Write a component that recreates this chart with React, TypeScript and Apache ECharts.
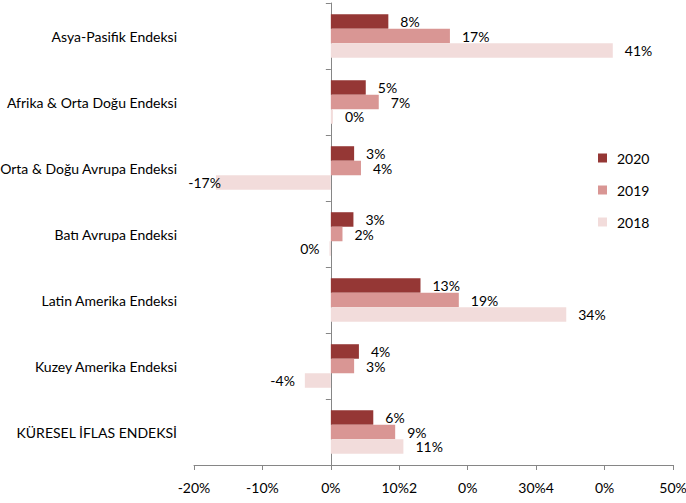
import React, { useEffect, useRef } from "react";
import * as echarts from "echarts";

const categories = [
  "Asya-Pasifik Endeksi",
  "Afrika & Orta Doğu Endeksi",
  "Orta & Doğu Avrupa Endeksi",
  "Batı Avrupa Endeksi",
  "Latin Amerika Endeksi",
  "Kuzey Amerika Endeksi",
  "KÜRESEL İFLAS ENDEKSİ",
];
const seriesNames = ["2020", "2019", "2018"];
const values2020 = [8.4, 5.1, 3.4, 3.3, 13.1, 4.1, 6.2];
const values2019 = [17.4, 7.0, 4.4, 1.7, 18.7, 3.4, 9.4];
const values2018 = [41.2, 0.3, -16.8, -0.2, 34.4, -3.8, 10.6];
const xTickLabels = ["-20%", "-10%", "0%", "10%2", "0%", "30%4", "0%", "50%"];
const xMin = -20;
const xMax = 50;
const xInterval = 10;

const colors = ["#953735", "#D99694", "#F2DCDB"];
const FONT = "Lato, 'Liberation Sans Narrow', sans-serif";

export default function App() {
  const ref = useRef<HTMLDivElement>(null);
  useEffect(() => {
    if (!ref.current) return;
    const chart = echarts.init(ref.current, undefined, { renderer: "svg" });
    const allValues = [values2020, values2019, values2018];
    const series = allValues.map((vals, si) => ({
      name: seriesNames[si],
      type: "bar",
      barGap: "0%",
      barCategoryGap: "34%",
      itemStyle: { color: colors[si] },
      label: {
        show: true,
        color: "#000",
        fontFamily: FONT,
        fontSize: 14,
        lineHeight: 12,
        distance: 12,
        formatter: (p: any) => `${Math.round(p.value)}%`,
      },
      data: vals.map((v) => ({
        value: v,
        label: {
          position: v < 0 ? "left" : "right",
          distance: v < -10 ? -5 : v < 0 ? 10 : 12,
        },
      })),
    }));
    chart.setOption({
      animation: false,
      textStyle: { fontFamily: FONT },
      legend: {
        orient: "vertical",
        left: 593,
        top: 146,
        itemWidth: 9,
        itemHeight: 9,
        itemGap: 18,
        icon: "rect",
        data: seriesNames,
        textStyle: { fontFamily: FONT, fontSize: 14, color: "#000", padding: [0, 0, 0, 5] },
      },
      grid: { left: 194, right: 13, top: 3, bottom: 38, containLabel: false, outerBoundsMode: "none" },
      xAxis: {
        type: "value",
        min: xMin,
        max: xMax,
        interval: xInterval,
        splitLine: { show: false },
        axisLine: { show: true, lineStyle: { color: "#868686" } },
        axisTick: { show: true, length: 5, lineStyle: { color: "#868686" } },
        axisLabel: {
          margin: 15,
          color: "#000",
          fontFamily: FONT,
          fontSize: 14,
          formatter: (v: number) => xTickLabels[Math.round((v - xMin) / xInterval)] ?? "",
        },
      },
      yAxis: {
        type: "category",
        inverse: true,
        data: categories,
        axisLine: { show: true, onZero: true, lineStyle: { color: "#868686" } },
        axisTick: { show: true, length: 5, lineStyle: { color: "#868686" } },
        axisLabel: {
          margin: 17,
          color: "#000",
          fontFamily: FONT,
          fontSize: 14,
        },
      },
      series,
    });
    return () => chart.dispose();
  }, []);
  return (
    <div
      ref={ref}
      style={{ position: "fixed", left: 0, top: 0, width: 686, height: 503, background: "#fff" }}
    />
  );
}
